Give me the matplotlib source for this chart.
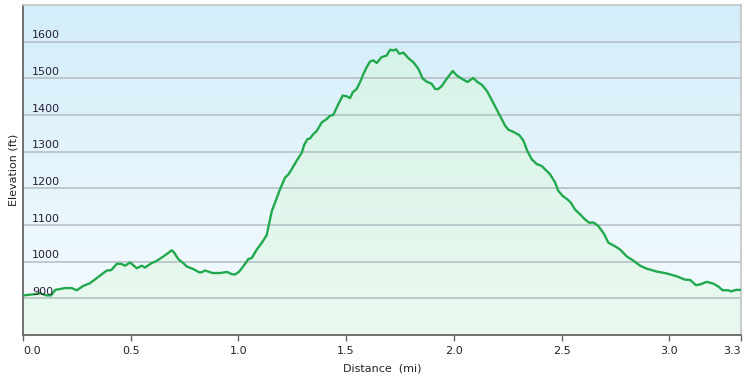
import matplotlib as mpl
mpl.use('Agg')
import matplotlib.pyplot as plt
import numpy as np
from matplotlib.colors import to_rgb

# distance (mi) and elevation (ft)
dist = [0.0, 0.05, 0.08, 0.11, 0.13, 0.15, 0.195, 0.226, 0.25, 0.28, 0.31,
        0.342, 0.373, 0.39, 0.41, 0.435, 0.455, 0.474, 0.497, 0.528, 0.551,
        0.566, 0.597, 0.62, 0.651, 0.675, 0.69, 0.70, 0.721, 0.744, 0.76,
        0.79, 0.818, 0.83, 0.845, 0.86, 0.88, 0.915, 0.948, 0.969, 0.984,
        1.004, 1.027, 1.046, 1.062, 1.085, 1.108, 1.131, 1.155, 1.17, 1.193,
        1.216, 1.232, 1.247, 1.27, 1.294, 1.305, 1.32, 1.332, 1.348, 1.364,
        1.387, 1.41, 1.425, 1.44, 1.464, 1.484, 1.503, 1.518, 1.531, 1.549,
        1.565, 1.58, 1.596, 1.611, 1.626, 1.642, 1.665, 1.688, 1.704, 1.719,
        1.732, 1.747, 1.766, 1.789, 1.812, 1.835, 1.856, 1.874, 1.897, 1.913,
        1.928, 1.944, 1.967, 1.995, 2.013, 2.037, 2.063, 2.09, 2.109, 2.129,
        2.153, 2.168, 2.19, 2.214, 2.238, 2.253, 2.276, 2.304, 2.323, 2.341,
        2.362, 2.385, 2.408, 2.423, 2.447, 2.47, 2.485, 2.506, 2.527, 2.543,
        2.563, 2.586, 2.609, 2.629, 2.648, 2.671, 2.697, 2.717, 2.748, 2.772,
        2.803, 2.833, 2.865, 2.895, 2.942, 2.988, 3.035, 3.073, 3.097, 3.124,
        3.143, 3.174, 3.205, 3.228, 3.248, 3.274, 3.287, 3.31, 3.333]
elev = [908, 911, 914, 908, 908, 923, 928, 928, 922, 934, 941,
        955, 969, 976, 977, 994, 994, 989, 998, 982, 989,
        984, 996, 1002, 1014, 1024, 1031, 1026, 1007, 996, 987,
        980, 971, 971, 976, 973, 969, 969, 972, 966, 965,
        973, 991, 1007, 1010, 1033, 1051, 1072, 1138, 1161, 1197,
        1229, 1238, 1252, 1275, 1297, 1318, 1334, 1336, 1348, 1357,
        1380, 1389, 1398, 1400, 1430, 1453, 1451, 1446, 1462, 1471,
        1490, 1512, 1531, 1546, 1549, 1542, 1558, 1562, 1578, 1576,
        1579, 1567, 1570, 1555, 1544, 1526, 1499, 1491, 1485, 1471,
        1471, 1479, 1499, 1520, 1508, 1499, 1490, 1501, 1490, 1483,
        1466, 1450, 1425, 1398, 1371, 1360, 1354, 1345, 1330, 1302,
        1279, 1266, 1261, 1252, 1238, 1216, 1193, 1179, 1170, 1161,
        1142, 1129, 1115, 1106, 1107, 1097, 1076, 1052, 1042, 1033,
        1014, 1003, 989, 981, 973, 968, 960, 951, 950, 936,
        938, 945, 940, 932, 922, 922, 919, 923, 923]

xticks = [0.0, 0.5, 1.0, 1.5, 2.0, 2.5, 3.0, 3.333]
xlabels = ['0.0', '0.5', '1.0', '1.5', '2.0', '2.5', '3.0', '3.3']
yticks = [900, 1000, 1100, 1200, 1300, 1400, 1500, 1600]


def gradient(top, bottom, n=256):
    t = np.linspace(0, 1, n)[:, None]
    a, b = np.array(to_rgb(top)), np.array(to_rgb(bottom))
    return (a * (1 - t) + b * t)[:, None, :].repeat(2, axis=1)


fig = plt.figure(figsize=(7.48, 3.81), dpi=100)
ax = fig.add_axes([23 / 748, 1 - 335 / 381, 718 / 748, 330 / 381])
ax.set_xlim(0, dist[-1])
ax.set_ylim(800, 1700)

# sky background
ax.imshow(gradient('#d2edf9', '#f7fcfe'), extent=[0, 1, 0, 1],
          transform=ax.transAxes, aspect='auto', zorder=0)

# green fill under the profile
poly = ax.fill_between(dist, elev, 800, color='none', zorder=1)
fill = ax.imshow(gradient('#d3f2e6', '#eaf9f0'), extent=[0, 1, 0, 1],
                 transform=ax.transAxes, aspect='auto', zorder=1)
fill.set_clip_path(poly.get_paths()[0], ax.transData)

# grid lines with labels sitting just above them, inside the plot
for y in yticks:
    ax.axhline(y, color='#b3bcc0', lw=1.1, zorder=2)
    ax.annotate(str(y), xy=(0, y), xycoords=('axes fraction', 'data'),
                xytext=(6.5, 1), textcoords='offset points',
                fontsize=8, color='#2b1f36', ha='left', va='bottom', zorder=4)

ax.plot(dist, elev, color='#22a94e', lw=1.7, zorder=3, solid_joinstyle='round')

ax.set_yticks([])
ax.set_xticks(xticks)
ax.set_xticklabels(xlabels, fontsize=8, color='#222222')
labels = ax.get_xticklabels()
labels[0].set_ha('left')
labels[-1].set_ha('right')
ax.tick_params(axis='x', length=4, width=1, color='#666666', pad=4)

for s in ['left', 'bottom']:
    ax.spines[s].set_color('#666666')
    ax.spines[s].set_linewidth(1.3)
for s in ['top', 'right']:
    ax.spines[s].set_color('#c4c4c4')
    ax.spines[s].set_linewidth(1.2)

ax.set_xlabel('Distance  (mi)', fontsize=8, color='#222222', labelpad=5)
ax.set_ylabel('Elevation (ft)', fontsize=8, color='#222222', labelpad=3)

fig.savefig('out.png', dpi=100)
